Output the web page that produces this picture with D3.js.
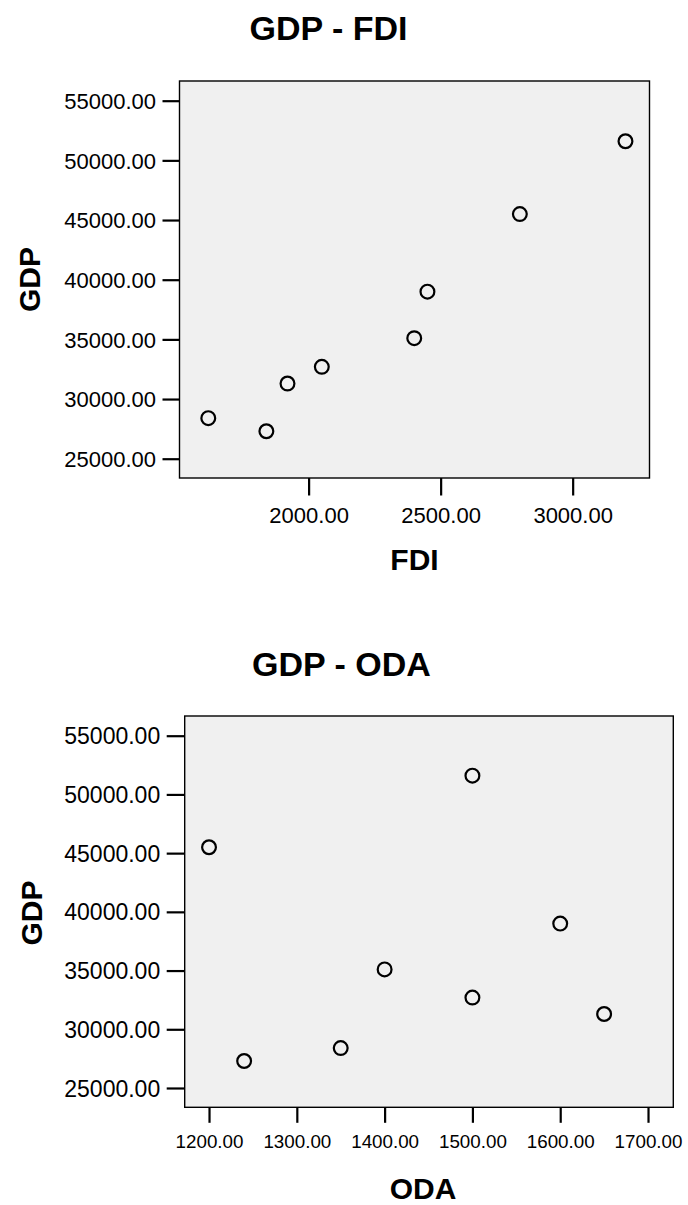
<!DOCTYPE html>
<html>
<head>
<meta charset="utf-8">
<script src="https://cdn.jsdelivr.net/npm/d3@7/dist/d3.min.js"></script>
<style>
  html, body { margin: 0; padding: 0; background: #fff; }
  svg { display: block; font-family: "Liberation Sans", Arial, sans-serif; }
</style>
</head>
<body>
<svg id="chart" width="688" height="1205"></svg>
<script>
// ---- data ----
const gdp = [28400, 27300, 31300, 32700, 35100, 39000, 45500, 51600];
const fdi = [1620, 1840, 1920, 2050, 2400, 2450, 2800, 3200];
const oda = [1350, 1240, 1650, 1500, 1400, 1600, 1200, 1500];
const gdpTicks = [25000, 30000, 35000, 40000, 45000, 50000, 55000];
const fdiTicks = [2000, 2500, 3000];
const odaTicks = [1200, 1300, 1400, 1500, 1600, 1700];

const svg = d3.select("#chart");
const fmt = d3.format(".2f");

const panels = [
  {
    title: "GDP - FDI", xLabel: "FDI", yLabel: "GDP",
    xs: fdi, ys: gdp, xTicks: fdiTicks, yTicks: gdpTicks,
    box: {l: 179.5, t: 81, r: 649.5, b: 478},
    xDom: [1511, 3291], yDom: [23384, 56650],
    titlePos: [328.5, 39.5], xLabelY: 570, yLabelX: 40, yLabelCY: 279.5,
    yTickLen: 17, xTickLen: 17.5, yFont: 22, xFont: 22, xLabelBase: 44.5
  },
  {
    title: "GDP - ODA", xLabel: "ODA", yLabel: "GDP",
    xs: oda, ys: gdp, xTicks: odaTicks, yTicks: gdpTicks,
    box: {l: 184.7, t: 716, r: 673.3, b: 1107.3},
    xDom: [1172.3, 1728.8], yDom: [23356, 56678],
    titlePos: [341.5, 675.7], xLabelY: 1198.5, yLabelX: 41.7, yLabelCY: 913,
    yTickLen: 18, xTickLen: 15.5, yFont: 23, xFont: 18.8, xLabelBase: 40.4, xLabelShift: -6
  }
];

panels.forEach(p => {
  const {l, t, r, b} = p.box;
  const x = d3.scaleLinear().domain(p.xDom).range([l, r]);
  const y = d3.scaleLinear().domain(p.yDom).range([b, t]);

  // plot background and frame
  svg.append("rect")
    .attr("x", l).attr("y", t).attr("width", r - l).attr("height", b - t)
    .attr("fill", "#f0f0f0").attr("stroke", "#000").attr("stroke-width", 1.4);

  // y axis
  const gy = svg.append("g").attr("transform", `translate(${l},0)`)
    .call(d3.axisLeft(y).tickValues(p.yTicks).tickFormat(fmt)
      .tickSize(p.yTickLen).tickPadding(6.5));
  gy.select(".domain").remove();
  gy.selectAll(".tick line").attr("stroke", "#000").attr("stroke-width", 2.2);
  gy.selectAll(".tick text").attr("fill", "#000")
    .attr("font-size", p.yFont).attr("font-family", "'Liberation Sans', Arial, sans-serif")
    .attr("dy", "0.35em");

  // x axis
  const gx = svg.append("g").attr("transform", `translate(0,${b})`)
    .call(d3.axisBottom(x).tickValues(p.xTicks).tickFormat(fmt)
      .tickSize(p.xTickLen).tickPadding(0));
  gx.select(".domain").remove();
  gx.selectAll(".tick line").attr("stroke", "#000").attr("stroke-width", 2.2);
  gx.selectAll(".tick text").attr("fill", "#000")
    .attr("font-size", p.xFont).attr("font-family", "'Liberation Sans', Arial, sans-serif")
    .attr("dy", null).attr("y", p.xLabelBase);

  // points
  svg.append("g").selectAll("circle")
    .data(p.xs.map((v, i) => [v, p.ys[i]]))
    .join("circle")
    .attr("cx", d => x(d[0])).attr("cy", d => y(d[1]))
    .attr("r", 6.9)
    .attr("fill", "none").attr("stroke", "#000").attr("stroke-width", 2.2);

  // title
  svg.append("text")
    .attr("x", p.titlePos[0]).attr("y", p.titlePos[1])
    .attr("text-anchor", "middle").attr("font-weight", "bold")
    .attr("font-size", 34).attr("fill", "#000").text(p.title);

  // x label
  svg.append("text")
    .attr("x", (l + r) / 2 + (p.xLabelShift || 0)).attr("y", p.xLabelY)
    .attr("text-anchor", "middle").attr("font-weight", "bold")
    .attr("font-size", 30).attr("fill", "#000").text(p.xLabel);

  // y label
  svg.append("text")
    .attr("transform", `translate(${p.yLabelX},${p.yLabelCY}) rotate(-90)`)
    .attr("text-anchor", "middle").attr("font-weight", "bold")
    .attr("font-size", 30).attr("fill", "#000").text(p.yLabel);
});
</script>
</body>
</html>
